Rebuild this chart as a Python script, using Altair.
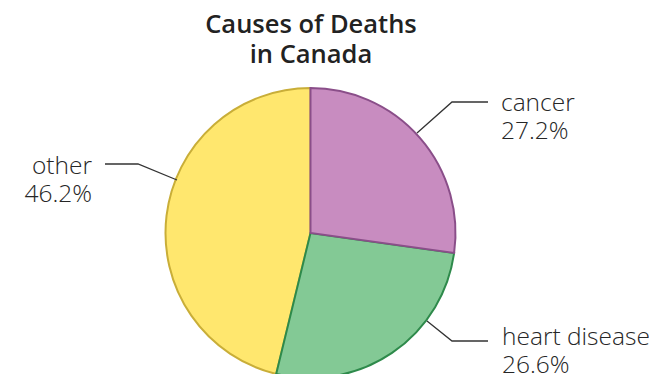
import altair as alt
import pandas as pd

# ---- data ----
categories = ["cancer", "heart disease", "other"]
percents = [27.2, 26.6, 46.2]
pct_labels = ["27.2%", "26.6%", "46.2%"]
fill_colors = ["#C88CC0", "#83C995", "#FFE76E"]
stroke_colors = ["#8A4E89", "#2E8A4B", "#C9AE38"]
title_lines = ["Causes of Deaths", "in Canada"]

# ---- layout (chart pixel space) ----
W, H = 641, 366
CX, CY, R = 302.5, 225, 145
label_x = [493, 494, 84]
label_y = [103, 337, 166]
label_align = ["left", "left", "right"]
LINE_GAP = 28
leader_pts = {
    "cancer": [(409, 125), (444, 94), (480, 94)],
    "heart disease": [(419, 313), (444, 333), (480, 333)],
    "other": [(169, 172), (130, 156), (97, 156)],
}

# pie table: cumulative start/end, drawn in reverse so cancer's stroke is on top
starts, acc = [], 0.0
for p in percents:
    starts.append(acc)
    acc += p
pie = pd.DataFrame({
    "cat": categories, "start": starts,
    "end": [s + p for s, p in zip(starts, percents)],
}).iloc[::-1]

color_scale = alt.Scale(domain=categories, range=fill_colors)
stroke_scale = alt.Scale(domain=categories, range=stroke_colors)

arcs = alt.Chart(pie).mark_arc(outerRadius=R, strokeWidth=2).encode(
    theta=alt.Theta("start:Q", scale=alt.Scale(domain=[0, 100])),
    theta2="end:Q",
    fill=alt.Fill("cat:N", scale=color_scale, legend=None),
    stroke=alt.Stroke("cat:N", scale=stroke_scale, legend=None),
    x=alt.value(CX), y=alt.value(CY),
)

xs = alt.Scale(domain=[0, W], range=[0, W])
ys = alt.Scale(domain=[0, H], range=[0, H])

rows = []
for i, c in enumerate(categories):
    rows.append({"t": c, "x": label_x[i], "y": label_y[i], "a": label_align[i]})
    rows.append({"t": pct_labels[i], "x": label_x[i], "y": label_y[i] + LINE_GAP, "a": label_align[i]})
lab = pd.DataFrame(rows)

def text_layer(df, align):
    return alt.Chart(df).mark_text(
        align=align, baseline="alphabetic", font="Open Sans", fontSize=24.5,
        fontWeight=300, color="#262626",
    ).encode(
        x=alt.X("x:Q", scale=xs, axis=None),
        y=alt.Y("y:Q", scale=ys, axis=None),
        text="t:N",
    )

labels_l = text_layer(lab[lab.a == "left"], "left")
labels_r = text_layer(lab[lab.a == "right"], "right")

lrows = []
for c, pts in leader_pts.items():
    for k, (px, py) in enumerate(pts):
        lrows.append({"cat": c, "k": k, "x": px, "y": py})
leaders = alt.Chart(pd.DataFrame(lrows)).mark_line(color="#333333", strokeWidth=1.3).encode(
    x=alt.X("x:Q", scale=xs, axis=None),
    y=alt.Y("y:Q", scale=ys, axis=None),
    detail="cat:N", order="k:Q",
)

tdf = pd.DataFrame({"t": title_lines, "x": [303, 303], "y": [25, 55]})
title = alt.Chart(tdf).mark_text(
    align="center", baseline="alphabetic", font="Open Sans", fontSize=25.5,
    fontWeight=600, color="#222222",
).encode(
    x=alt.X("x:Q", scale=xs, axis=None),
    y=alt.Y("y:Q", scale=ys, axis=None),
    text="t:N",
)

chart = alt.layer(arcs, leaders, labels_l, labels_r, title).properties(
    width=W, height=H, autosize=alt.AutoSizeParams(type="none"), padding=0,
).configure_view(stroke=None)

chart.save("out.html", embed_options={"renderer": "svg", "actions": False})
